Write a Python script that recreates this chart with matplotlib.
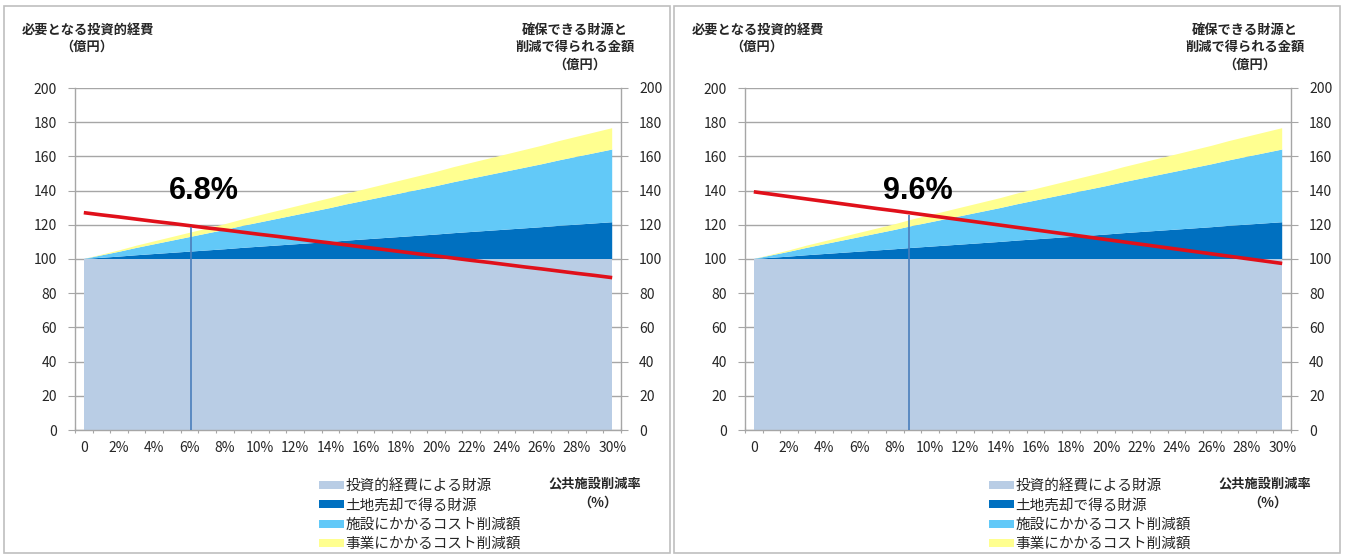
import matplotlib
matplotlib.use("Agg")
import matplotlib.pyplot as plt
from matplotlib.patches import Rectangle, Patch

plt.rcParams['font.family'] = ['Noto Sans CJK JP', 'DejaVu Sans']

# ---- data -------------------------------------------------------------
rates = list(range(31))  # 公共施設削減率 (%), 0..30
tick_labels = ["0", "2%", "4%", "6%", "8%", "10%", "12%", "14%", "16%",
               "18%", "20%", "22%", "24%", "26%", "28%", "30%"]

base_fund = [100] * 31  # 投資的経費による財源
land_sale = [0.0, 0.7, 1.4, 2.2, 2.9, 3.6, 4.3, 5.0, 5.7, 6.5, 7.2, 7.9, 8.6,
             9.3, 10.0, 10.8, 11.5, 12.2, 12.9, 13.6, 14.3, 15.1, 15.8, 16.5,
             17.2, 17.9, 18.6, 19.4, 20.1, 20.8, 21.5]
facility_cut = [0.0, 1.4, 2.8, 4.3, 5.7, 7.1, 8.5, 9.9, 11.3, 12.8, 14.2, 15.6,
                17.0, 18.4, 19.8, 21.3, 22.7, 24.1, 25.5, 26.9, 28.3, 29.8,
                31.2, 32.6, 34.0, 35.4, 36.8, 38.3, 39.7, 41.1, 42.5]
service_cut = [0.0, 0.4, 0.8, 1.3, 1.7, 2.1, 2.5, 2.9, 3.3, 3.8, 4.2, 4.6, 5.0,
               5.4, 5.8, 6.3, 6.7, 7.1, 7.5, 7.9, 8.3, 8.8, 9.2, 9.6, 10.0,
               10.4, 10.8, 11.3, 11.7, 12.1, 12.5]

required_a = [127.1, 125.8, 124.6, 123.3, 122.0, 120.8, 119.5, 118.2, 117.0,
              115.7, 114.4, 113.2, 111.9, 110.6, 109.4, 108.1, 106.8, 105.6,
              104.3, 103.0, 101.8, 100.5, 99.2, 98.0, 96.7, 95.4, 94.2, 92.9,
              91.6, 90.4, 89.1]
required_b = [139.3, 137.9, 136.5, 135.1, 133.7, 132.3, 130.9, 129.5, 128.2,
              126.8, 125.4, 124.0, 122.6, 121.2, 119.8, 118.4, 117.0, 115.6,
              114.2, 112.8, 111.4, 110.0, 108.6, 107.2, 105.8, 104.4, 103.0,
              101.6, 100.2, 98.8, 97.4]

break_even = [6.8, 9.6]          # 損益分岐となる削減率 (%)
break_even_level = [119, 126]    # 分岐点での金額 (億円)
label_pos = [6.8, 9.3]

series_names = ["投資的経費による財源", "土地売却で得る財源",
                "施設にかかるコスト削減額", "事業にかかるコスト削減額"]
series_colors = ["#b9cde5", "#0070c0", "#62c9f8", "#ffff90"]

W, H = 1348, 556
fig = plt.figure(figsize=(W / 100, H / 100), dpi=100)


def fx(px):
    return px / W


def fy(py):
    return 1 - py / H


grid_col = "#a6a6a6"
txt_col = "#262626"


def panel(x0, required, be, be_level, lab_x):
    # outer frame of the panel
    fig.add_artist(Rectangle((fx(x0 - 71), fy(553)), fx(666), fy(6) - fy(553),
                             transform=fig.transFigure, fill=False,
                             edgecolor="#bfbfbf", linewidth=1.2))

    ax = fig.add_axes([fx(x0), fy(430), fx(546), fy(88) - fy(430)])
    ax.set_xlim(-0.5, 30.5)
    ax.set_ylim(0, 200)
    ax.set_yticks(range(0, 201, 20))
    ax.yaxis.grid(True, color=grid_col, linewidth=1.0)
    ax.set_axisbelow(True)

    ax.stackplot(rates, base_fund, land_sale, facility_cut, service_cut,
                 colors=series_colors, linewidth=0, zorder=2)
    ax.plot(rates, required, color="#e0101a", linewidth=2.6,
            solid_capstyle="butt", zorder=4)

    ax.spines["top"].set_visible(False)
    for s in ["left", "right", "bottom"]:
        ax.spines[s].set_color(grid_col)
        ax.spines[s].set_linewidth(1.0)

    ax.set_xticks([r - 0.5 for r in rates] + [30.5], minor=False)
    ax.set_xticklabels([])
    ax.set_xticks(rates[::2], minor=True)
    ax.set_xticklabels(tick_labels, minor=True)
    ax.tick_params(axis="x", which="major", length=5, color=grid_col,
                   direction="inout")
    ax.tick_params(axis="x", which="minor", length=0, pad=8,
                   labelsize=10, labelcolor=txt_col)
    ax.tick_params(axis="y", length=5, color=grid_col, labelsize=10,
                   labelcolor=txt_col, pad=8)

    axr = ax.twinx()
    axr.set_ylim(0, 200)
    axr.set_yticks(range(0, 201, 20))
    axr.tick_params(axis="y", length=5, color=grid_col, labelsize=10,
                    labelcolor=txt_col, pad=8)
    for s in axr.spines.values():
        s.set_visible(False)

    # secondary horizontal scale used for the break-even marker
    axt = ax.twiny()
    axt.set_xlim(0, 32)
    axt.set_ylim(0, 200)
    axt.axis("off")
    axt.vlines(be, 0, be_level, color="#4a7ebb", linewidth=1.2, zorder=5)

    ax.text(lab_x, 140, f"{be}%", ha="center", va="center", fontsize=22,
            fontweight="bold", family=["Liberation Sans", "DejaVu Sans"],
            color="black", zorder=6)

    # titles
    kw = dict(va="center", fontsize=9.5, fontweight="bold", color=txt_col)
    fig.text(fx(x0 - 53), fy(30), "必要となる投資的経費", ha="left", **kw)
    fig.text(fx(x0 + 12), fy(47), "（億円）", ha="center", **kw)
    fig.text(fx(x0 + 500), fy(30), "確保できる財源と", ha="center", **kw)
    fig.text(fx(x0 + 500), fy(47), "削減で得られる金額", ha="center", **kw)
    fig.text(fx(x0 + 505), fy(65), "（億円）", ha="center", **kw)

    fig.text(fx(x0 + 520), fy(483), "公共施設削減率", ha="center", **kw)
    fig.text(fx(x0 + 523), fy(503), "（%）", ha="center", **kw)

    handles = [Patch(facecolor=c, edgecolor="none") for c in series_colors]
    fig.legend(handles, series_names, loc="upper left",
               bbox_to_anchor=(fx(x0 + 237), fy(472)), frameon=False,
               fontsize=10.5, handlelength=1.7, handleheight=0.45,
               handletextpad=0.1, labelspacing=0.36, borderpad=0,
               labelcolor=txt_col)
    return ax


panel(75, required_a, break_even[0], break_even_level[0], label_pos[0])
panel(745, required_b, break_even[1], break_even_level[1], label_pos[1])

fig.savefig("out.png", dpi=100, facecolor="white")
